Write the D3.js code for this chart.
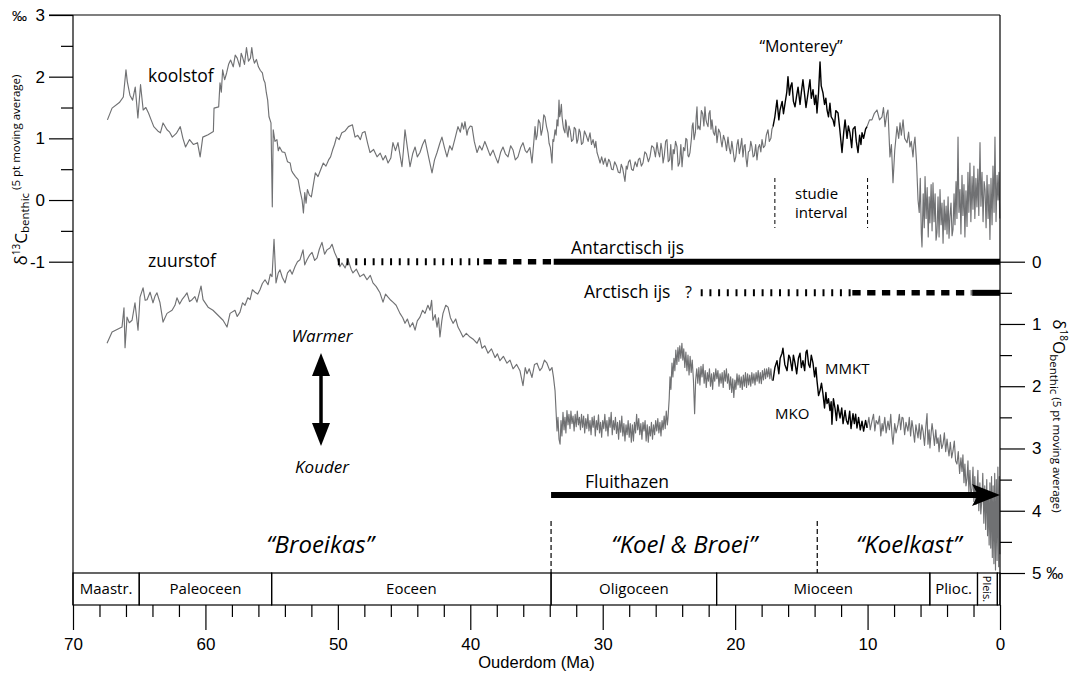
<!DOCTYPE html>
<html>
<head>
<meta charset="utf-8">
<script src="https://cdn.jsdelivr.net/npm/d3@7"></script>
<style>
  body { margin: 0; background: #fff; }
  svg { display: block; }
  .ann { font-family: "Open Sans", sans-serif; fill: #000; }
</style>
</head>
<body>
<svg id="chart" width="1075" height="675"></svg>
<script>
// [age Ma, d13C]
const carbon = [
  [67.4,1.30],[67.05,1.49],[66.5,1.58],[66.2,1.67],[66.0,2.11],[65.9,1.92],[65.7,1.70],[65.5,1.62],[65.3,1.83],[65.1,1.33],
  [64.9,1.87],[64.7,1.46],[64.5,1.50],[64.3,1.41],[64.1,1.30],[63.9,1.19],[63.6,1.12],[63.4,1.09],[63.2,1.25],[62.9,1.14],
  [62.7,1.10],[62.5,1.02],[62.2,1.08],[61.9,1.19],[61.7,1.00],[61.5,0.86],[61.2,0.98],[60.9,0.90],[60.6,0.93],[60.4,0.70],
  [60.2,1.02],[59.8,1.06],[59.4,1.11],[59.35,1.49],[59.0,1.51],[58.9,1.90],[58.8,1.75],[58.7,2.11],[58.55,1.95],[58.4,2.06],
  [58.25,2.20],[58.1,2.27],[57.9,2.16],[57.75,2.35],[57.6,2.30],[57.4,2.16],[57.3,2.38],[57.2,2.32],[57.05,2.20],[56.9,2.47],
  [56.75,2.25],[56.6,2.30],[56.5,2.47],[56.4,2.30],[56.3,2.22],[56.15,2.28],[56.0,2.16],[55.85,2.10],[55.7,2.06],[55.6,1.95],
  [55.5,1.90],[55.4,1.74],[55.3,1.62],[55.2,1.35],[55.05,1.25],[54.95,-0.11],[54.88,1.14],[54.75,0.95],[54.6,0.98],[54.5,0.80],
  [54.4,0.86],[54.2,0.78],[54.0,0.77],[53.8,0.62],[53.6,0.60],[53.5,0.48],[53.4,0.44],[53.2,0.38],[53.0,0.33],[52.85,0.15],
  [52.7,0.00],[52.6,-0.21],[52.5,0.12],[52.4,-0.05],[52.3,0.17],[52.15,0.08],[52.0,0.05],[51.85,0.25],[51.7,0.44],[51.5,0.38],
  [51.3,0.49],[51.1,0.60],[50.9,0.55],[50.7,0.65],[50.55,0.70],[50.4,0.81],[50.25,0.90],[50.1,1.02],[49.9,0.98],[49.7,1.09],
  [49.45,1.12],[49.2,1.19],[48.9,1.22],[48.7,1.02],[48.5,1.05],[48.3,0.98],[48.15,1.09],[47.95,1.11],[47.75,0.92],[47.57,0.77],
  [47.3,0.82],[47.04,0.70],[46.8,0.76],[46.59,0.65],[46.4,0.72],[46.21,0.60],[46.0,0.68],[45.84,0.93],[45.65,0.80],[45.46,0.93],
  [45.3,0.72],[45.16,0.54],[45.05,0.80],[44.93,1.14],[44.75,0.85],[44.55,0.54],[44.35,0.75],[44.17,0.86],[44.0,0.70],[43.80,0.77],
  [43.6,0.90],[43.42,0.98],[43.15,0.70],[42.89,0.44],[42.7,0.65],[42.51,0.77],[42.3,0.92],[42.14,1.02],[41.95,0.85],[41.76,0.70],
  [41.55,0.88],[41.38,0.81],[41.15,1.00],[40.93,1.19],[40.75,1.10],[40.63,1.25],[40.5,1.15],[40.40,1.27],[40.25,1.05],[40.17,1.14],
  [40.0,1.20],[39.87,1.19],[39.7,0.95],[39.49,0.77],[39.3,0.88],[39.12,0.81],[38.9,0.95],[38.74,0.86],[38.5,0.72],[38.28,0.81],
  [38.1,0.70],[37.91,0.60],[37.7,0.78],[37.53,0.86],[37.35,0.75],[37.15,0.70],[36.95,0.88],[36.77,0.81],[36.6,0.65],[36.40,0.70],
  [36.2,0.85],[36.02,0.93],[35.85,0.80],[35.72,0.77],[35.5,0.85],[35.34,0.60],[35.2,0.95],[35.11,1.19],[35.03,0.98],[34.95,1.05],
  [34.85,1.30],[34.74,1.25],[34.65,1.05],[34.55,1.15],[34.45,1.38],[34.36,1.35],[34.25,1.20],[34.13,1.09],[34.05,0.92],[33.95,0.85],
  [33.83,0.60],[33.76,0.98],[33.7,0.95],[33.60,1.14],[33.52,1.05],[33.45,1.30],[33.38,1.20],[33.30,1.62],[33.25,1.35],[33.2,1.40],
  [33.12,1.55],[33.07,1.35],[33.0,1.22],[32.95,1.15],[32.85,1.09],[32.8,1.30],[32.75,1.25],[32.68,1.08],[32.62,1.02],[32.55,1.20],
  [32.45,1.12],[32.35,0.95],[32.24,0.98],[32.15,1.18],[32.05,1.15],[31.95,0.92],[31.87,0.98],[31.78,1.15],[31.7,1.10],[31.6,0.90],
  [31.49,0.93],[31.38,1.12],[31.25,1.05],[31.1,0.95],[30.96,1.09],[30.85,0.90],[30.73,0.98],[30.6,0.85],[30.52,0.95],[30.43,0.77],
  [30.3,0.68],[30.20,0.60],[30.08,0.70],[29.95,0.58],[29.82,0.68],[29.68,0.54],[29.55,0.66],[29.45,0.62],[29.33,0.50],[29.22,0.49],
  [29.1,0.62],[28.95,0.55],[28.82,0.45],[28.69,0.44],[28.6,0.58],[28.5,0.52],[28.4,0.40],[28.32,0.30],[28.22,0.55],[28.15,0.50],
  [28.05,0.62],[27.94,0.65],[27.82,0.50],[27.7,0.48],[27.55,0.62],[27.41,0.54],[27.3,0.66],[27.2,0.68],[27.08,0.55],[26.96,0.60],
  [26.82,0.78],[26.7,0.75],[26.55,0.62],[26.43,0.70],[26.3,0.88],[26.15,0.85],[26.02,0.70],[25.90,0.93],[25.8,0.78],[25.7,0.70],
  [25.6,0.92],[25.52,0.81],[25.44,0.60],[25.35,0.72],[25.25,0.95],[25.15,0.98],[25.05,0.62],[24.95,0.65],[24.86,0.90],[24.77,0.49],
  [24.68,0.82],[24.6,0.75],[24.5,0.95],[24.39,0.86],[24.3,0.55],[24.2,0.60],[24.1,0.90],[24.01,0.54],[23.9,0.85],[23.8,0.80],
  [23.72,1.00],[23.64,0.98],[23.56,0.72],[23.5,0.70],[23.41,0.77],[23.3,1.00],[23.24,1.20],[23.18,1.25],[23.1,0.98],[23.0,1.10],
  [22.94,1.35],[22.88,1.51],[22.82,1.15],[22.75,1.20],[22.65,1.14],[22.55,1.45],[22.45,1.40],[22.36,1.20],[22.28,1.51],[22.2,1.30],
  [22.15,1.25],[22.05,1.19],[21.98,1.40],[21.9,1.45],[21.82,1.15],[21.75,1.30],[21.65,1.10],[21.55,1.05],[21.46,1.20],[21.37,0.93],
  [21.25,1.15],[21.14,1.09],[21.06,0.95],[20.99,0.86],[20.88,1.05],[20.75,0.95],[20.65,0.80],[20.54,1.02],[20.45,0.85],[20.35,0.75],
  [20.25,0.95],[20.16,0.81],[20.05,0.62],[19.95,0.70],[19.86,0.90],[19.78,0.98],[19.68,0.75],[19.6,0.85],[19.5,1.00],[19.41,0.70],
  [19.32,0.88],[19.25,0.90],[19.18,0.68],[19.10,0.54],[19.0,0.78],[18.9,0.80],[18.82,0.95],[18.73,0.86],[18.64,0.70],[18.55,0.72],
  [18.45,0.90],[18.35,0.65],[18.25,0.85],[18.15,0.90],[18.06,0.78],[17.97,0.98],[17.86,0.85],[17.75,0.88],[17.65,1.05],[17.52,1.14],
  [17.42,0.95],[17.3,1.00],[17.22,1.15],[17.14,1.19]
];
const carbonMonterey = [
  [17.14,1.19],[17.0,1.35],[16.84,1.62],[16.7,1.30],[16.61,1.46],[16.45,1.60],[16.35,1.40],[16.23,1.57],[16.1,1.75],[16.01,2.00],
  [15.9,1.70],[15.8,1.85],[15.71,1.90],[15.6,1.60],[15.48,1.51],[15.35,1.70],[15.25,1.83],[15.1,1.55],[15.0,1.75],[14.88,1.95],
  [14.75,1.70],[14.65,1.50],[14.57,1.62],[14.45,1.80],[14.35,1.95],[14.25,1.65],[14.12,1.79],[14.0,1.55],[13.9,1.70],[13.82,1.41],
  [13.7,1.75],[13.59,2.24],[13.5,1.85],[13.37,1.74],[13.25,1.55],[13.15,1.65],[13.06,1.46],[12.95,1.35],[12.84,1.57],[12.75,1.35],
  [12.61,1.30],[12.5,1.20],[12.4,1.45],[12.23,1.41],[12.1,1.15],[11.93,0.77],[11.8,1.10],[11.70,1.30],[11.55,1.00],[11.45,1.20],
  [11.33,1.09],[11.2,0.85],[11.1,1.15],[10.95,1.19],[10.85,0.95],[10.72,0.77],[10.6,1.05],[10.5,0.90],[10.42,1.09],[10.3,1.00],
  [10.15,1.15],[10.04,1.19]
];
const carbonLate = [
  [10.04,1.19],[9.85,1.30],[9.67,1.30],[9.5,1.40],[9.29,1.46],[9.1,1.30],[8.91,1.35],[8.8,1.50],[8.68,1.19],[8.55,1.40],
  [8.46,1.46],[8.31,0.70],[8.2,0.90],[8.08,0.28],[7.95,0.80],[7.78,1.19],[7.65,1.00],[7.55,1.25],[7.45,1.05],[7.32,1.30],
  [7.2,1.00],[7.02,0.93],[6.9,1.10],[6.80,0.86],[6.7,0.95],[6.57,0.70],[6.5,0.90],[6.42,1.02],[6.3,0.60],[6.19,0.00],
  [6.10,-0.20],[6.02,0.35],[5.94,-0.55],[5.89,-0.76],[5.80,0.10],[5.72,-0.45],[5.66,0.38],[5.58,-0.30],[5.50,0.20],[5.42,-0.60],
  [5.35,0.05],[5.29,-0.37],[5.20,0.25],[5.13,-0.50],[5.06,0.28],[4.98,-0.35],[4.90,0.10],[4.83,-0.65],[4.76,-0.53],[4.68,0.05],
  [4.60,-0.60],[4.53,0.17],[4.45,-0.40],[4.38,-0.05],[4.30,-0.70],[4.22,0.00],[4.15,-0.48],[4.07,-0.10],[4.00,-0.55],[3.92,0.05],
  [3.85,-0.62],[3.78,-0.27],[3.70,-0.05],[3.62,-0.58],[3.55,-0.48],[3.47,0.10],[3.40,-0.40],[3.32,0.30],[3.25,-0.30],[3.17,1.02],
  [3.10,-0.20],[3.02,0.17],[2.95,-0.55],[2.87,0.40],[2.80,-0.25],[2.72,0.25],[2.65,-0.60],[2.57,0.15],[2.49,-0.43],[2.42,0.45],
  [2.35,-0.20],[2.27,0.60],[2.20,-0.35],[2.11,0.38],[2.04,-0.15],[1.97,0.55],[1.90,-0.30],[1.82,0.35],[1.74,-0.11],[1.67,0.50],
  [1.60,-0.25],[1.51,0.93],[1.44,-0.10],[1.36,0.45],[1.28,-0.35],[1.20,0.30],[1.13,0.17],[1.05,-0.45],[0.98,0.40],[0.90,-0.30],
  [0.83,0.25],[0.76,-0.64],[0.68,0.35],[0.60,-0.40],[0.53,0.55],[0.45,-0.20],[0.38,1.02],[0.30,-0.35],[0.22,0.40],[0.15,0.00],
  [0.08,0.45],[0.02,-0.30]
];

// [age Ma, d18O]
const oxygen = [
  [67.43,1.31],[67.05,1.13],[66.6,1.08],[66.3,1.05],[66.15,0.74],[66.07,1.38],[65.92,0.89],[65.75,0.98],[65.54,0.94],[65.32,0.66],
  [65.09,1.10],[64.94,0.57],[64.71,0.42],[64.55,0.62],[64.41,0.61],[64.18,0.49],[63.96,0.66],[63.8,0.55],[63.66,0.50],[63.43,0.66],
  [63.2,0.97],[62.9,0.83],[62.52,0.78],[62.3,0.70],[62.15,0.58],[61.95,0.68],[61.77,0.61],[61.55,0.55],[61.39,0.50],[61.2,0.64],
  [61.01,0.61],[60.8,0.56],[60.64,0.65],[60.33,0.39],[60.18,0.61],[59.8,0.73],[59.43,0.78],[59.05,0.86],[58.67,0.94],[58.37,1.05],
  [58.14,0.83],[57.77,0.78],[57.6,0.88],[57.39,0.81],[57.2,0.66],[57.01,0.70],[56.8,0.58],[56.63,0.61],[56.45,0.45],[56.26,0.49],
  [56.05,0.52],[55.88,0.45],[55.7,0.35],[55.5,0.29],[55.27,0.37],[55.1,0.20],[54.97,0.24],[54.82,-0.36],[54.67,0.34],[54.5,0.18],
  [54.37,0.13],[54.2,0.25],[53.99,0.34],[53.8,0.18],[53.61,0.13],[53.45,0.20],[53.24,0.08],[53.05,0.00],[52.86,-0.03],[52.63,-0.19],
  [52.5,0.05],[52.33,-0.03],[52.15,-0.10],[51.95,-0.15],[51.75,-0.02],[51.57,-0.06],[51.4,-0.20],[51.2,-0.31],[51.0,-0.12],[50.82,-0.19],
  [50.6,-0.22],[50.44,-0.28],[50.25,-0.15],[50.06,-0.06],[49.85,0.08],[49.69,0.02],[49.45,0.10],[49.23,-0.03],[49.0,0.12],[48.86,0.18],
  [48.6,0.12],[48.33,0.24],[48.05,0.20],[47.80,0.29],[47.55,0.22],[47.35,0.34],[47.1,0.40],[46.82,0.50],[46.59,0.65],[46.4,0.52],
  [46.21,0.57],[46.0,0.62],[45.84,0.65],[45.6,0.70],[45.31,0.83],[45.1,0.90],[44.93,0.99],[44.75,0.92],[44.55,1.05],[44.35,0.98],
  [44.17,1.10],[44.0,0.95],[43.80,0.89],[43.6,0.78],[43.42,0.83],[43.2,0.70],[43.04,0.78],[42.92,0.62],[42.82,0.94],[42.65,0.85],
  [42.51,1.05],[42.4,0.90],[42.29,1.21],[42.15,0.95],[42.06,0.83],[41.85,0.70],[41.68,0.73],[41.5,0.90],[41.30,0.99],[41.1,0.92],
  [40.93,1.05],[40.75,1.12],[40.55,1.21],[40.3,1.15],[40.02,1.21],[39.75,1.25],[39.49,1.31],[39.3,1.22],[39.12,1.39],[38.9,1.35],
  [38.66,1.47],[38.4,1.40],[38.13,1.54],[37.95,1.48],[37.76,1.59],[37.5,1.52],[37.23,1.63],[37.0,1.58],[36.77,1.72],[36.5,1.65],
  [36.25,1.75],[36.02,1.99],[35.85,1.70],[35.72,1.80],[35.55,1.72],[35.34,1.86],[35.15,1.65],[34.96,1.63],[34.75,1.75],[34.58,1.70],
  [34.4,1.58],[34.21,1.63],[34.0,1.75],[33.83,1.70],[33.72,1.85],[33.60,2.07],[33.45,2.72],[33.38,2.50],[33.3,2.85],[33.22,2.93],
  [33.15,2.55],[33.08,2.80],[33.0,2.42],[32.92,2.70],[32.85,2.50],[32.78,2.75],[32.7,2.39],[32.62,2.62],[32.55,2.45],[32.47,2.68],
  [32.4,2.40],[32.32,2.60],[32.24,2.48],[32.16,2.72],[32.08,2.45],[32.0,2.65],[31.92,2.40],[31.84,2.62],[31.76,2.50],[31.68,2.70],
  [31.6,2.45],[31.52,2.66],[31.44,2.48],[31.36,2.75],[31.28,2.52],[31.2,2.68],[31.12,2.45],[31.04,2.72],[30.96,2.55],[30.88,2.78],
  [30.8,2.50],[30.72,2.66],[30.64,2.48],[30.56,2.80],[30.48,2.55],[30.4,2.70],[30.32,2.46],[30.24,2.75],[30.16,2.58],[30.08,2.82],
  [30.0,2.55],[29.92,2.68],[29.84,2.45],[29.76,2.72],[29.68,2.55],[29.6,2.80],[29.52,2.50],[29.44,2.66],[29.36,2.42],[29.28,2.78],
  [29.2,2.55],[29.12,2.70],[29.04,2.50],[28.96,2.76],[28.88,2.58],[28.8,2.85],[28.72,2.55],[28.64,2.74],[28.56,2.48],[28.48,2.80],
  [28.4,2.60],[28.32,2.88],[28.24,2.62],[28.16,2.78],[28.08,2.55],[28.0,2.82],[27.92,2.60],[27.84,2.90],[27.76,2.62],[27.68,2.88],
  [27.6,2.58],[27.52,2.75],[27.44,2.45],[27.36,2.70],[27.28,2.52],[27.2,2.78],[27.12,2.60],[27.04,2.85],[26.96,2.58],[26.88,2.72],
  [26.8,2.55],[26.72,2.88],[26.64,2.62],[26.56,2.90],[26.48,2.65],[26.4,2.80],[26.32,2.58],[26.24,2.85],[26.16,2.62],[26.08,2.78],
  [26.0,2.55],[25.92,2.72],[25.84,2.52],[25.76,2.75],[25.68,2.58],[25.6,2.80],[25.52,2.55],[25.44,2.70],[25.36,2.48],[25.28,2.68],
  [25.2,2.40],[25.12,2.62],[25.07,2.51],[24.98,2.20],[24.92,1.85],[24.85,2.05],[24.77,1.63],[24.7,1.85],[24.62,1.55],[24.55,1.75],
  [24.48,1.42],[24.4,1.65],[24.32,1.38],[24.25,1.60],[24.18,1.35],[24.1,1.55],[24.02,1.31],[23.95,1.58],[23.88,1.40],[23.8,1.70],
  [23.72,1.45],[23.64,1.75],[23.56,1.50],[23.48,1.82],[23.4,1.52],[23.32,1.78],[23.24,1.58],[23.15,1.90],[23.06,2.44],[22.98,1.90],
  [22.9,1.72],[22.82,1.95],[22.74,1.70],[22.66,1.98],[22.58,1.68],[22.5,1.85],[22.42,1.65],[22.34,1.95],[22.26,1.75],[22.18,2.02],
  [22.1,1.78],[22.02,1.92],[21.94,1.72],[21.86,2.00],[21.78,1.80],[21.7,2.05],[21.62,1.78],[21.54,1.92],[21.46,1.72],[21.38,1.88],
  [21.3,1.75],[21.22,2.00],[21.14,1.80],[21.06,1.95],[20.98,1.78],[20.9,2.02],[20.82,1.75],[20.74,1.92],[20.66,1.72],[20.58,1.95],
  [20.5,1.80],[20.42,2.05],[20.34,1.85],[20.26,2.10],[20.18,1.88],[20.1,2.18],[20.02,1.90],[19.94,2.05],[19.86,1.80],[19.78,1.98],
  [19.7,1.82],[19.62,2.02],[19.54,1.85],[19.46,2.05],[19.38,1.82],[19.3,2.00],[19.22,1.78],[19.14,2.02],[19.06,1.80],[18.98,1.98],
  [18.9,1.82],[18.82,2.00],[18.74,1.78],[18.66,1.95],[18.58,1.80],[18.5,1.98],[18.42,1.78],[18.34,1.92],[18.26,1.75],[18.18,1.95],
  [18.1,1.78],[18.02,1.96],[17.94,1.75],[17.86,1.90],[17.78,1.72],[17.7,1.88],[17.62,1.72],[17.54,1.85],[17.46,1.70],[17.38,1.88],
  [17.3,1.72],[17.22,1.90],[17.14,1.91]
];
const oxygenMMKT = [
  [17.14,1.91],[17.0,1.70],[16.84,1.59],[16.7,1.80],[16.6,1.55],[16.46,1.47],[16.39,1.39],[16.25,1.65],[16.08,1.75],[15.95,1.50],
  [15.86,1.54],[15.7,1.75],[15.6,1.50],[15.48,1.63],[15.35,1.80],[15.22,1.55],[15.10,1.47],[15.0,1.70],[14.88,1.59],[14.75,1.75],
  [14.65,1.45],[14.57,1.42],[14.45,1.65],[14.35,1.70],[14.25,1.50],[14.12,1.63],[14.0,1.85],[13.9,1.70],[13.82,1.91],[13.7,2.15],
  [13.59,2.07],[13.48,1.95],[13.37,2.12],[13.25,2.35],[13.15,2.10],[13.06,2.28],[12.95,2.20],[12.84,2.39],[12.75,2.25],[12.69,2.61],
  [12.58,2.20],[12.46,2.35],[12.35,2.55],[12.25,2.30],[12.08,2.51],[11.95,2.35],[11.85,2.60],[11.70,2.39],[11.6,2.55],[11.48,2.61],
  [11.35,2.40],[11.25,2.68],[11.10,2.44],[11.0,2.60],[10.90,2.45],[10.80,2.67],[10.68,2.50],[10.55,2.70],[10.42,2.56],[10.3,2.72],
  [10.15,2.55],[10.04,2.67]
];
const oxygenLate = [
  [10.04,2.67],[9.9,2.50],[9.8,2.70],[9.67,2.56],[9.55,2.45],[9.45,2.72],[9.35,2.55],[9.21,2.61],[9.1,2.48],[9.0,2.80],
  [8.9,2.60],[8.83,2.72],[8.7,2.50],[8.6,2.75],[8.46,2.56],[8.35,2.70],[8.25,2.45],[8.15,2.80],[8.08,2.93],[7.95,2.60],
  [7.85,2.75],[7.70,2.61],[7.6,2.45],[7.5,2.70],[7.4,2.50],[7.32,2.51],[7.2,2.78],[7.1,2.58],[6.95,2.72],[6.85,2.50],
  [6.75,2.80],[6.65,2.55],[6.57,2.67],[6.45,2.90],[6.35,2.62],[6.19,2.83],[6.1,2.60],[6.0,2.85],[5.9,2.62],[5.81,2.72],
  [5.7,2.95],[5.6,2.65],[5.51,2.44],[5.44,2.93],[5.35,2.70],[5.29,2.99],[5.2,2.75],[5.13,2.60],[5.06,2.72],[4.95,2.95],
  [4.85,2.70],[4.76,2.92],[4.68,2.83],[4.6,3.05],[4.5,2.78],[4.4,3.00],[4.30,2.93],[4.2,2.75],[4.1,3.05],[4.0,2.85],
  [3.93,2.99],[3.85,3.12],[3.75,2.90],[3.65,3.15],[3.55,3.04],[3.45,2.88],[3.35,3.20],[3.25,3.25],[3.15,3.05],[3.05,3.40],
  [2.95,3.15],[2.87,3.37],[2.80,3.10],[2.72,3.55],[2.65,3.25],[2.57,3.60],[2.49,3.48],[2.42,3.20],[2.35,3.70],[2.27,3.35],
  [2.20,3.75],[2.11,3.64],[2.04,3.30],[1.97,3.85],[1.90,3.45],[1.82,3.90],[1.74,3.69],[1.67,3.35],[1.60,4.00],[1.52,3.55],
  [1.45,4.05],[1.36,3.80],[1.30,3.40],[1.22,4.20],[1.15,3.60],[1.08,4.30],[1.00,3.50],[0.94,4.40],[0.88,3.70],[0.82,4.55],
  [0.76,3.55],[0.70,4.60],[0.64,3.45],[0.58,4.75],[0.52,3.60],[0.46,4.85],[0.40,3.40],[0.34,4.95],[0.28,3.50],[0.22,4.80],
  [0.16,3.30],[0.10,4.90],[0.05,3.45],[0.0,4.70]
];

const ageTicks = [70, 60, 50, 40, 30, 20, 10, 0];
const ageMinor = [68, 66, 64, 62, 58, 56, 54, 52, 48, 46, 44, 42, 38, 36, 34, 32, 28, 26, 24, 22, 18, 16, 14, 12, 8, 6, 4, 2];
const carbonTicks = [3, 2, 1, 0, -1];
const carbonMinor = [2.5, 1.5, 0.5, -0.5];
const oxygenTicks = [0, 1, 2, 3, 4, 5];
const oxygenMinor = [0.5, 1.5, 2.5, 3.5, 4.5];

const epochNames = ["Maastr.", "Paleoceen", "Eoceen", "Oligoceen", "Mioceen", "Plioc.", "Pleis.", ""];
const epochStart = [70, 65.0, 55.0, 33.9, 21.4, 5.3, 1.7, 0.2];
const epochEnd = [65.0, 55.0, 33.9, 21.4, 5.3, 1.7, 0.2, 0];

const climateNames = ["\u201cBroeikas\u201d", "\u201cKoel & Broei\u201d", "\u201cKoelkast\u201d"];
const climateStart = [70, 33.9, 13.8];
const climateEnd = [33.9, 13.8, 0];

// ice sheets: [from, to, style]
const antarcticIce = [[50, 39, "dotted"], [39, 33.7, "dashed"], [33.7, 0, "solid"]];
const arcticIce = [[22.6, 11.15, "dotted"], [11.15, 2.15, "dashed"], [2.1, 0, "solid"]];

const svg = d3.select("#chart");
const x = d3.scaleLinear().domain([70, 0]).range([73, 1000]);
const yC = d3.scaleLinear().domain([3, -1]).range([15, 261.7]);
const yO = d3.scaleLinear().domain([0, 5]).range([261.7, 573]);
const barTop = yO(5), barBottom = 605;

const lineC = d3.line().x(d => x(d[0])).y(d => yC(d[1]));
const lineO = d3.line().x(d => x(d[0])).y(d => yO(d[1]));

// curves
const curves = [
  [carbon, lineC, "#707173", 1.15], [carbonLate, lineC, "#707173", 1.15], [carbonMonterey, lineC, "#000", 1.4],
  [oxygen, lineO, "#707173", 1.15], [oxygenLate, lineO, "#707173", 1.15], [oxygenMMKT, lineO, "#000", 1.4]
];
svg.append("g")
  .selectAll("path")
  .data(curves)
  .enter()
  .append("path")
  .attr("d", d => d[1](d[0]))
  .attr("fill", "none")
  .attr("stroke", d => d[2])
  .attr("stroke-width", d => d[3])
  .attr("stroke-linejoin", "round");

// frame
const frame = svg.append("g").attr("stroke", "#000").attr("stroke-width", 1.2);
frame.append("line").attr("x1", 49).attr("x2", x(0)).attr("y1", yC(3)).attr("y2", yC(3));
frame.append("line").attr("x1", x(70)).attr("x2", x(70)).attr("y1", yC(3)).attr("y2", barBottom);
frame.append("line").attr("x1", x(0)).attr("x2", x(0)).attr("y1", yC(3)).attr("y2", barBottom);

function styleAxis(g, size) {
  g.select(".domain").remove();
  g.attr("font-family", "'Liberation Sans', Arial, sans-serif").attr("font-size", size);
  g.selectAll("line").attr("stroke", "#000").attr("stroke-width", 1.2);
  g.selectAll("text").attr("fill", "#000");
}

// left axis
svg.append("g").attr("transform", `translate(${x(70)},0)`)
  .call(d3.axisLeft(yC).tickValues(carbonTicks).tickSize(24).tickPadding(4).tickFormat(d => d))
  .call(g => styleAxis(g, 17));
svg.append("g").attr("transform", `translate(${x(70)},0)`)
  .call(d3.axisLeft(yC).tickValues(carbonMinor).tickSize(12).tickFormat(""))
  .call(g => styleAxis(g, 17));
svg.append("text").attr("x", 12).attr("y", yC(3) + 6)
  .attr("font-family", "'Liberation Sans', Arial, sans-serif").attr("font-size", 15).text("\u2030");

// right axis
svg.append("g").attr("transform", `translate(${x(0)},0)`)
  .call(d3.axisRight(yO).tickValues(oxygenTicks).tickSize(25).tickPadding(7)
    .tickFormat(d => d === 5 ? "5 \u2030" : d))
  .call(g => styleAxis(g, 17));
svg.append("g").attr("transform", `translate(${x(0)},0)`)
  .call(d3.axisRight(yO).tickValues(oxygenMinor).tickSize(12).tickFormat(""))
  .call(g => styleAxis(g, 17));

// bottom axis
svg.append("g").attr("transform", `translate(0,${barBottom})`)
  .call(d3.axisBottom(x).tickValues(ageTicks).tickSize(25).tickPadding(8))
  .call(g => styleAxis(g, 17));
svg.append("g").attr("transform", `translate(0,${barBottom})`)
  .call(d3.axisBottom(x).tickValues(ageMinor).tickSize(12).tickFormat(""))
  .call(g => styleAxis(g, 17));
svg.append("text")
  .attr("x", (x(70) + x(0)) / 2).attr("y", 668)
  .attr("text-anchor", "middle")
  .attr("font-family", "'Liberation Sans', Arial, sans-serif").attr("font-size", 16.5)
  .text("Ouderdom (Ma)");

// axis titles
const leftTitle = svg.append("text").attr("class", "ann")
  .attr("transform", `translate(27,170) rotate(-90)`)
  .attr("text-anchor", "middle");
leftTitle.append("tspan").attr("font-size", 17).text("\u03b4");
leftTitle.append("tspan").attr("font-size", 10).attr("dy", -7).text("13");
leftTitle.append("tspan").attr("font-size", 17).attr("dy", 7).text("C");
leftTitle.append("tspan").attr("font-size", 11.5).attr("dy", 2).text("benthic");
leftTitle.append("tspan").attr("font-size", 11.5).attr("dy", -9).text(" (5 pt moving average)");

const rightTitle = svg.append("text").attr("class", "ann")
  .attr("transform", `translate(1053,416) rotate(90)`)
  .attr("text-anchor", "middle");
rightTitle.append("tspan").attr("font-size", 17).text("\u03b4");
rightTitle.append("tspan").attr("font-size", 10).attr("dy", -7).text("18");
rightTitle.append("tspan").attr("font-size", 17).attr("dy", 7).text("O");
rightTitle.append("tspan").attr("font-size", 11.5).attr("dy", 3).text("benthic");
rightTitle.append("tspan").attr("font-size", 11.5).attr("dy", -3).text(" (5 pt moving average)");

// epoch bar
const epochs = svg.append("g");
epochs.selectAll("rect")
  .data(epochNames)
  .enter()
  .append("rect")
  .attr("x", (d, i) => x(epochStart[i]))
  .attr("width", (d, i) => x(epochEnd[i]) - x(epochStart[i]))
  .attr("y", barTop)
  .attr("height", barBottom - barTop)
  .attr("fill", "none")
  .attr("stroke", "#000")
  .attr("stroke-width", 1.2);
epochs.selectAll("text")
  .data(epochNames)
  .enter()
  .append("text")
  .attr("class", "ann")
  .attr("font-size", d => d === "Pleis." ? 11 : 15)
  .attr("text-anchor", "middle")
  .attr("transform", (d, i) => {
    const cx = (x(epochStart[i]) + x(epochEnd[i])) / 2;
    const cy = (barTop + barBottom) / 2;
    return d === "Pleis." ? `translate(${cx - 4},${cy}) rotate(90)` : `translate(${cx},${cy + 5})`;
  })
  .text(d => d);

// climate states
svg.append("g")
  .selectAll("line")
  .data(climateStart.slice(1))
  .enter()
  .append("line")
  .attr("x1", d => x(d)).attr("x2", d => x(d))
  .attr("y1", 521).attr("y2", barTop)
  .attr("stroke", "#000").attr("stroke-width", 1.2)
  .attr("stroke-dasharray", "5,3");
svg.append("g")
  .selectAll("text")
  .data(climateNames)
  .enter()
  .append("text")
  .attr("class", "ann")
  .attr("font-style", "italic")
  .attr("font-size", 24)
  .attr("text-anchor", "middle")
  .attr("x", (d, i) => (x(climateStart[i]) + x(climateEnd[i])) / 2 + (i === 0 ? 8 : 0))
  .attr("y", 553)
  .text(d => d);

// ice sheets
function drawIce(segments, level) {
  const styles = {
    dotted: { w: 7, dash: "2,6.7" },
    dashed: { w: 5.5, dash: "8.3,6.5" },
    solid: { w: 6, dash: null }
  };
  svg.append("g")
    .selectAll("line")
    .data(segments)
    .enter()
    .append("line")
    .attr("x1", d => x(d[0])).attr("x2", d => x(d[1]))
    .attr("y1", yO(level)).attr("y2", yO(level))
    .attr("stroke", "#000")
    .attr("stroke-width", d => styles[d[2]].w)
    .attr("stroke-dasharray", d => styles[d[2]].dash);
}
drawIce(antarcticIce, 0);
drawIce(arcticIce, 0.5);

// annotations
const ann = (txt, px, py, size, opts = {}) => svg.append("text")
  .attr("class", "ann")
  .attr("x", px).attr("y", py)
  .attr("font-size", size)
  .attr("font-style", opts.italic ? "italic" : null)
  .attr("text-anchor", opts.anchor || "start")
  .text(txt);

ann("koolstof", 148, 82, 17.5);
ann("zuurstof", 148, 267, 17.5);
ann("\u201cMonterey\u201d", 801, 52, 16, { anchor: "middle" });
ann("studie", 795, 199, 15);
ann("interval", 795, 218, 15);
ann("Antarctisch ijs", 571, 254, 17.5);
ann("Arctisch ijs", 584, 298, 17.5);
ann("?", 685, 298, 16);
ann("Warmer", 322, 342, 17, { italic: true, anchor: "middle" });
ann("Kouder", 322, 473, 17, { italic: true, anchor: "middle" });
ann("MMKT", 825, 374, 15);
ann("MKO", 775, 419, 15);
ann("Fluithazen", 585, 488, 17.5);

// studie interval markers
svg.append("g")
  .selectAll("line")
  .data([17, 10])
  .enter()
  .append("line")
  .attr("x1", d => x(d)).attr("x2", d => x(d))
  .attr("y1", 178).attr("y2", 228)
  .attr("stroke", "#000").attr("stroke-width", 1)
  .attr("stroke-dasharray", "4,3");

// warmer / kouder arrow
const ax = 321;
svg.append("line").attr("x1", ax).attr("x2", ax).attr("y1", 370).attr("y2", 430)
  .attr("stroke", "#000").attr("stroke-width", 3.5);
svg.append("path").attr("d", `M${ax},353 L${ax + 9},376 L${ax - 9},376 Z`).attr("fill", "#000");
svg.append("path").attr("d", `M${ax},446 L${ax + 9},423 L${ax - 9},423 Z`).attr("fill", "#000");

// fluithazen arrow
const fy = 495;
svg.append("line").attr("x1", x(33.9)).attr("x2", x(0) - 20).attr("y1", fy).attr("y2", fy)
  .attr("stroke", "#000").attr("stroke-width", 6);
svg.append("path")
  .attr("d", `M${x(0)},${fy} L${x(0) - 28},${fy - 11} L${x(0) - 22},${fy} L${x(0) - 28},${fy + 11} Z`)
  .attr("fill", "#000");
</script>
</body>
</html>
